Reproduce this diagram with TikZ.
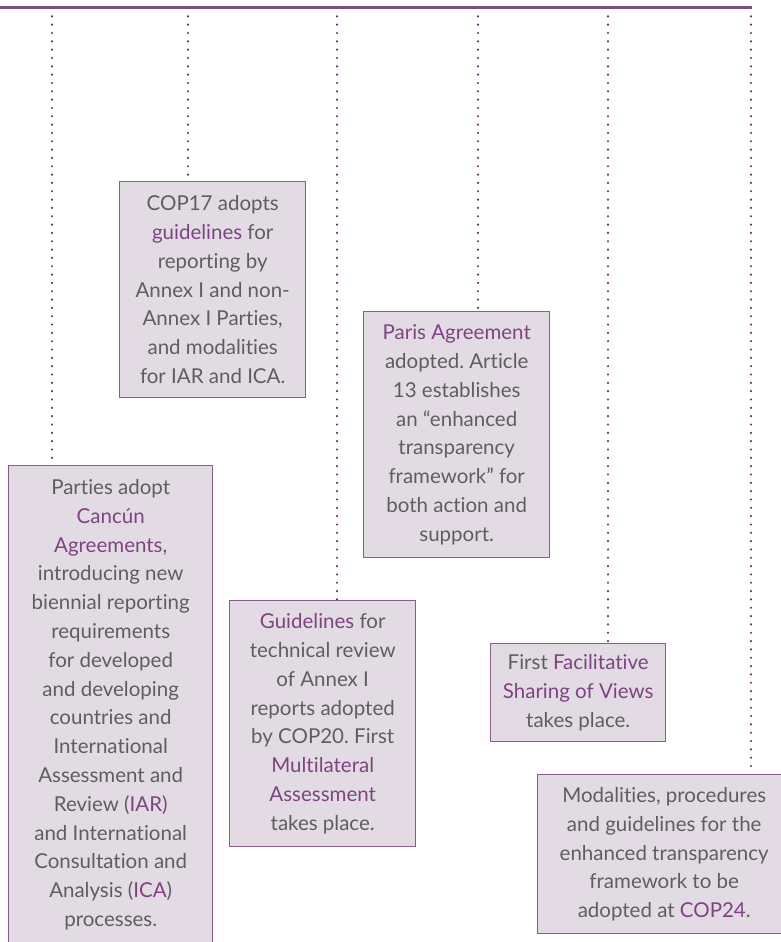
\documentclass[tikz,border=0pt]{standalone}
\usepackage{fontspec}
\setmainfont{Lato}[Ligatures={TeX,NoCommon}]
\definecolor{txtgray}{HTML}{5E5E5E}
\definecolor{plum}{HTML}{7E4481}
\definecolor{boxfill}{HTML}{E3DBE4}
\definecolor{boxline}{HTML}{8A5C8D}
\definecolor{dotcol}{HTML}{6A2C6E}
\newcommand{\pl}[1]{\textcolor{plum}{#1}}
\begin{document}
\frenchspacing
\begin{tikzpicture}[x=1pt,y=-1pt,
  evbox/.style={draw=boxline, fill=boxfill, line width=1.4pt, text=txtgray,
    align=center, inner sep=0pt, anchor=north west,
    font=\fontsize{20.5}{28.8}\selectfont\frenchspacing},
  dotline/.style={dotcol, line width=2.4pt, line cap=round, dash pattern=on 0pt off 8.33pt},
  topline/.style={dotcol!85!white, line width=2.2pt}]
\useasboundingbox (0,0) rectangle (781,942);

% boxes
\node[evbox, minimum width=186pt, minimum height=216pt] (cop17) at (119,181)
  {COP17 adopts\\ \pl{guidelines} for\\ reporting by\\ Annex I and non-\\ Annex I Parties,\\ and modalities\\ for IAR and ICA.};
\node[evbox, minimum width=204pt, minimum height=478pt] (cancun) at (8,465)
  {Parties adopt\\ \pl{Cancún}\\ \pl{Agreements},\\ introducing new\\ biennial reporting\\ requirements\\ for developed\\ and developing\\ countries and\\ International\\ Assessment and\\ Review (\pl{IAR)}\\ and International\\ Consultation and\\ Analysis (\pl{ICA})\\ processes.};
\node[evbox, minimum width=186pt, minimum height=246pt] (paris) at (363,311)
  {\pl{Paris Agreement}\\ adopted. Article\\ 13 establishes\\ an “enhanced\\ transparency\\ framework” for\\ both action and\\ support.};
\node[evbox, minimum width=186pt, minimum height=246pt] (guide) at (229,600)
  {\pl{Guidelines} for\\ technical review\\ of Annex I\\ reports adopted\\ by COP20. First\\ \pl{Multilateral}\\ \pl{Assessment}\\ takes place.};
\node[evbox, minimum width=175pt, minimum height=98pt] (fsv) at (490,643)
  {First \pl{Facilitative}\\ \pl{Sharing of Views}\\ takes place.};
\node[evbox, minimum width=253pt, minimum height=159pt] (modal) at (537,774)
  {Modalities, procedures\\ and guidelines for the\\ enhanced transparency\\ framework to be\\ adopted at \pl{COP24}.};

% top line and drop points
\coordinate (tl) at (0,7.5);
\coordinate (tr) at (752,7.5);
\coordinate (t1) at (52,8);
\coordinate (t2) at (188,8);
\coordinate (t3) at (337,8);
\coordinate (t4) at (478,8);
\coordinate (t5) at (608,8);
\coordinate (t6) at (751,8);

\draw[dotline] (t1) -- (t1 |- cancun.north);
\draw[dotline] (t2) -- (t2 |- cop17.north);
\draw[dotline] (t3) -- (t3 |- guide.north);
\draw[dotline] (t4) -- (t4 |- paris.north);
\draw[dotline] (t5) -- (t5 |- fsv.north);
\draw[dotline] (t6) -- (t6 |- modal.north);
\draw[topline] (tl) -- (tr);
\end{tikzpicture}
\end{document}
